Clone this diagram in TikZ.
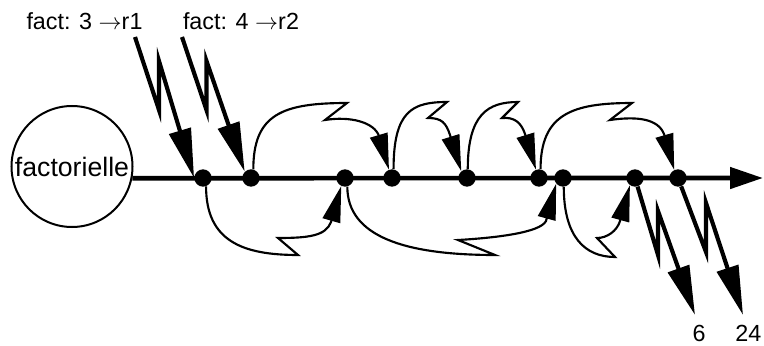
\documentclass[tikz,border=0pt]{standalone}
\usepackage{fontspec}
\setmainfont{Liberation Sans}
\usetikzlibrary{arrows.meta}
\begin{document}
\begin{tikzpicture}[x=0.75pt,y=-0.75pt,
  lab/.style={font=\fontsize{17.5}{20}\selectfont, inner sep=0pt},
  dot/.style={circle, fill=black, minimum size=13pt, inner sep=0pt},
  axisline/.style={line width=3.5pt, -{Triangle[length=24.75pt,width=15.75pt]}},
  bolt/.style={line width=3.1pt, line join=miter, -{Triangle[length=37pt,width=16.5pt]}},
  flow/.style={line width=1.6pt, line join=miter, -{Triangle[length=27pt,width=13.5pt]}},
]
\useasboundingbox (0,0) rectangle (764,346);
\node[circle, draw, line width=1.5pt, minimum size=90.75pt, inner sep=0pt,
      font=\fontsize{20}{22}\selectfont] (fact) at (72,166.5) {factorielle};
\coordinate (axend) at (763,178);
\draw[axisline] (fact.-11) -- (axend);
\foreach \n/\x in {1/203,2/251,3/345,4/392,5/467,6/539,7/563,8/635,9/678}
  \node[dot] (d\n) at (\x,178) {};
% labels
\node[lab, anchor=base] (t1) at (84.5,30) {fact: 3 $\rightarrow$r1};
\node[lab, anchor=base] (t2) at (241,30) {fact: 4 $\rightarrow$r2};
\node[lab, anchor=base] (n6) at (699,341.5) {6};
\node[lab, anchor=base] (n24) at (748.3,341.5) {24};
% lightning arrows
\coordinate (i1) at (135,37); \coordinate (i1a) at (159,110); \coordinate (i1b) at (159,61);
\draw[bolt] (i1) -- (i1a) -- (i1b) -- (d1.180);
\coordinate (i2) at (182,37); \coordinate (i2a) at (206.5,110); \coordinate (i2b) at (206.5,61);
\draw[bolt] (i2) -- (i2a) -- (i2b) -- (d2.135);
\coordinate (o1a) at (658,255); \coordinate (o1b) at (658,211); \coordinate (o1) at (695,315);
\draw[bolt] (d8) -- (o1a) -- (o1b) -- (o1);
\coordinate (o2a) at (706,252); \coordinate (o2b) at (706,203); \coordinate (o2) at (743,315);
\draw[bolt] (d9) -- (o2a) -- (o2b) -- (o2);
% continuation arrows above
\coordinate (u1p) at (347,103); \coordinate (u1q) at (325,120); \coordinate (u1b) at (379,136);
\draw[flow] (d2.75) .. controls +(0,-55) and +(-65,0) .. (u1p) -- (u1q)
  .. controls +(25,-4) and +(-5,-14) .. (u1b) -- (d4.110);
\coordinate (u2p) at (447,102); \coordinate (u2q) at (428,118); \coordinate (u2b) at (450,135);
\draw[flow] (d4.80) .. controls +(0,-58) and +(-35,0) .. (u2p) -- (u2q)
  .. controls +(14,0) and +(-4,-12) .. (u2b) -- (d5.130);
\coordinate (u3p) at (518,102); \coordinate (u3q) at (502,118); \coordinate (u3b) at (525,134);
\draw[flow] (d5.85) .. controls +(0,-55) and +(-30,0) .. (u3p) -- (u3q)
  .. controls +(12,-1) and +(-4,-12) .. (u3b) -- (d6.110);
\coordinate (u4p) at (632,103); \coordinate (u4q) at (610,120); \coordinate (u4b) at (664,134);
\draw[flow] (d6.80) .. controls +(0,-55) and +(-60,0) .. (u4p) -- (u4q)
  .. controls +(28,-4) and +(-6,-15) .. (u4b) -- (d9.115);
% continuation arrows below
\coordinate (l1p) at (298,255); \coordinate (l1q) at (278,238); \coordinate (l1b) at (331,222);
\draw[flow] (d1.-70) .. controls +(0,55) and +(-55,0) .. (l1p) -- (l1q)
  .. controls +(30,0) and +(-5,14) .. (l1b) -- (d3.-115);
\coordinate (l2p) at (495,255); \coordinate (l2q) at (458,240); \coordinate (l2b) at (546,221);
\draw[flow] (d3.-75) .. controls +(0,50) and +(-90,0) .. (l2p) -- (l2q)
  .. controls +(35,-2) and +(-6,12) .. (l2b) -- (d7.-140);
\coordinate (l3p) at (615,257); \coordinate (l3q) at (597,238); \coordinate (l3b) at (620,221);
\draw[flow] (d7.-85) .. controls +(0,50) and +(-30,0) .. (l3p) -- (l3q)
  .. controls +(10,0) and +(-3,10) .. (l3b) -- (d8.-125);
\end{tikzpicture}
\end{document}
